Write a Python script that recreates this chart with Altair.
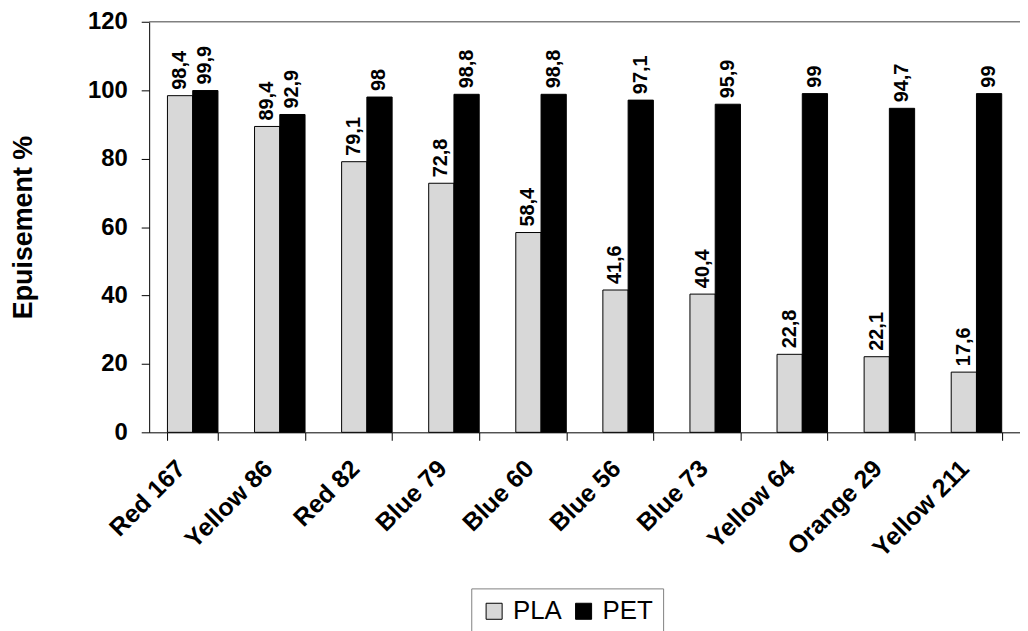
import altair as alt
import pandas as pd

dyes = ["Red 167", "Yellow 86", "Red 82", "Blue 79", "Blue 60",
        "Blue 56", "Blue 73", "Yellow 64", "Orange 29", "Yellow 211"]
pla = [98.4, 89.4, 79.1, 72.8, 58.4, 41.6, 40.4, 22.8, 22.1, 17.6]
pet = [99.9, 92.9, 98, 98.8, 98.8, 97.1, 95.9, 99, 94.7, 99]
series = ["PLA", "PET"]
colors = ["#d8d8d8", "#000000"]
y_ticks = [0, 20, 40, 60, 80, 100, 120]

rows = []
for d, a, b in zip(dyes, pla, pet):
    rows.append({"dye": d, "fibre": "PLA", "value": a, "label": f"{a:g}".replace(".", ",")})
    rows.append({"dye": d, "fibre": "PET", "value": b, "label": f"{b:g}".replace(".", ",")})
df = pd.DataFrame(rows)

FONT = "Liberation Sans"

x_enc = alt.X(
    "dye:N", sort=dyes, title=None,
    scale=alt.Scale(paddingInner=0.42, paddingOuter=0.21),
    axis=alt.Axis(labelAngle=315, labelFontSize=25, labelFontWeight="bold",
                  labelAlign="right", labelBaseline="middle", labelPadding=24,
                  labelOffset=-12, tickBand="extent", tickSize=8,
                  domainColor="black", tickColor="black", labelColor="black",
                  labelFont=FONT),
)
xo_enc = alt.XOffset("fibre:N", sort=series, scale=alt.Scale(paddingInner=0, paddingOuter=0))
y_enc = alt.Y(
    "value:Q", scale=alt.Scale(domain=[0, 120], nice=False),
    axis=alt.Axis(values=y_ticks, title="Epuisement %", titleFontSize=27,
                  titleFontWeight="bold", titlePadding=50, titleColor="black",
                  labelFontSize=24, labelFontWeight="bold", labelColor="black",
                  labelPadding=14, tickSize=8, grid=False, domainColor="black",
                  tickColor="black", labelFont=FONT, titleFont=FONT),
)

bars = alt.Chart(df).mark_bar(stroke="black", strokeWidth=1).encode(
    x=x_enc, xOffset=xo_enc, y=y_enc,
    color=alt.Color(
        "fibre:N", sort=series,
        scale=alt.Scale(domain=series, range=colors),
        legend=alt.Legend(title=None, orient="none", legendX=324, legendY=570,
                          direction="horizontal", symbolType="square",
                          symbolSize=260, symbolStrokeColor="black",
                          symbolStrokeWidth=1, labelFontSize=26, labelFont=FONT,
                          labelColor="black", strokeColor="#808080", padding=10,
                          columnPadding=8, labelOffset=6),
    ),
)

texts = alt.Chart(df).mark_text(
    angle=270, align="left", baseline="middle", dx=6,
    fontSize=20, fontWeight="bold", font=FONT, color="black",
).encode(x=x_enc, xOffset=xo_enc, y=y_enc, text="label:N")

top = alt.Chart(pd.DataFrame({"v": [120]})).mark_rule(color="#808080", strokeWidth=1.5).encode(
    y=alt.Y("v:Q")
)

chart = alt.layer(top, bars, texts).properties(
    width=876, height=413,
    autosize=alt.AutoSizeParams(type="none"),
    padding={"left": 142, "top": 12, "right": 0, "bottom": 198},
).configure_view(stroke=None)

chart.save("out.html", embed_options={"renderer": "svg", "actions": False})
